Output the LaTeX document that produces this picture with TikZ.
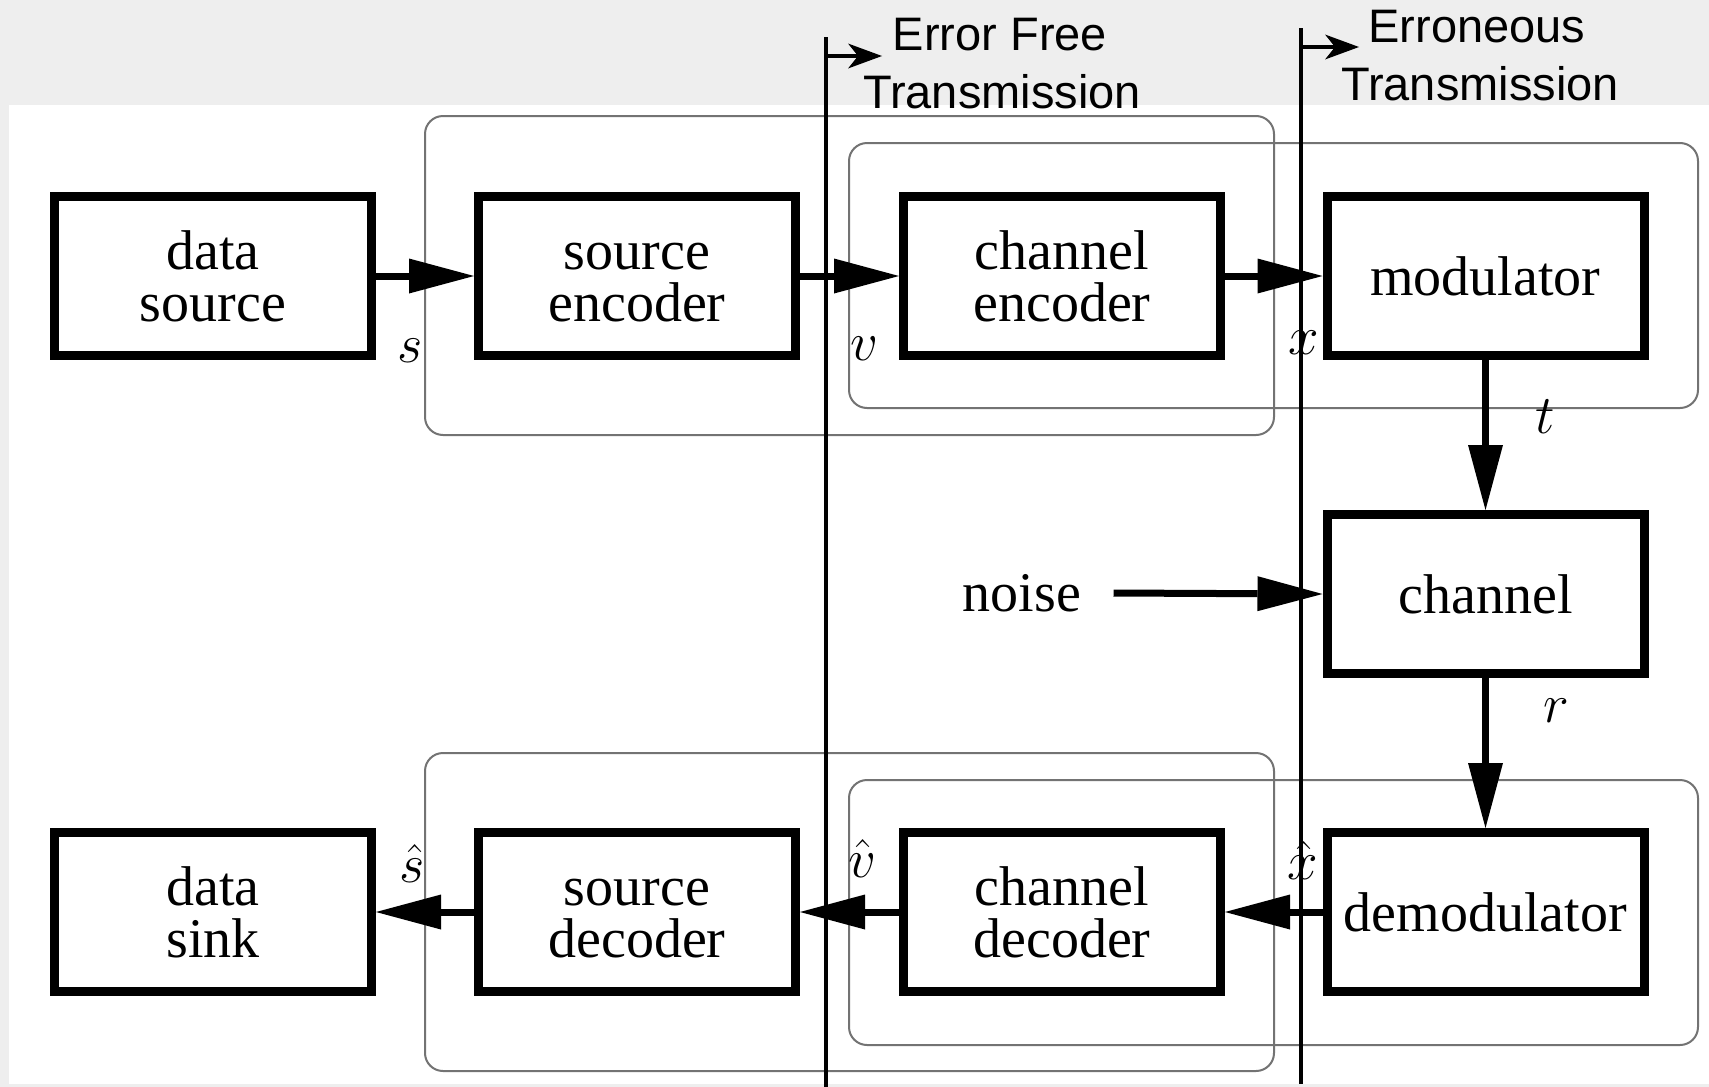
\documentclass[tikz,border=0pt]{standalone}
\usepackage{graphicx}
\usepackage{fontspec}
\setmainfont{Liberation Serif}
\newfontfamily\hdrfont{Liberation Sans}
\usetikzlibrary{arrows.meta}
\definecolor{bgpanel}{RGB}{238,238,238}
\definecolor{grouprule}{RGB}{115,115,115}
% signal name, a little larger than the largest math size
\newcommand{\signame}[1]{\scalebox{1.1}{$#1$}}

\begin{document}
\begin{tikzpicture}[x=0.5pt,y=-0.5pt,
  block/.style={draw=black, line width=4.5pt, fill=white,
    minimum width=158.5pt, minimum height=79.5pt, inner sep=0pt,
    align=center, font=\fontsize{28}{26}\selectfont},
  flow/.style={line width=3.5pt,
    -{Triangle[length=32.5pt,width=17.5pt,line width=0pt]}},
  group/.style={draw=grouprule, line width=1pt, rounded corners=9pt},
  divider/.style={line width=2.3pt},
  dirarrow/.style={line width=1.8pt,
    -{Stealth[length=17pt,width=12.5pt,inset=5pt,line width=0pt]}},
  hdr/.style={font=\hdrfont\fontsize{23.5}{29}\selectfont, anchor=base, inner sep=0pt},
  sig/.style={font=\fontsize{26}{28}\selectfont, inner sep=0pt},
]
% page and panel
\useasboundingbox (0,0) rectangle (1709,1087);
\fill[bgpanel] (0,0) rectangle (1709,1087);
\fill[white] (9,105) rectangle (1709,1084);

% coder groups
\draw[group] (425,116) rectangle (1274,435);
\draw[group] (849,143) rectangle (1698,408);
\draw[group] (425,753) rectangle (1274,1071);
\draw[group] (849,780) rectangle (1698,1045);

% transmission boundaries
\coordinate (d1t) at (826,37);
\coordinate (d1b) at (826,1087);
\coordinate (d2t) at (1301,28);
\coordinate (d2b) at (1301,1084);
\draw[divider] (d1t) -- (d1b);
\draw[divider] (d2t) -- (d2b);

\coordinate (efs) at (826,56);
\coordinate (efe) at (882,56);
\draw[dirarrow] (efs) -- (efe);
\coordinate (ers) at (1301,47);
\coordinate (ere) at (1359,47);
\draw[dirarrow] (ers) -- (ere);

\node[hdr] (efa) at (1000,50) {Error Free};
\node[hdr] (efb) at (1002,108) {Transmission};
\node[hdr] (era) at (1477,42) {Erroneous};
\node[hdr] (erb) at (1480,100) {Transmission};

% blocks
\node[block] (dsrc) at (213,276) {data\\source};
\node[block] (senc) at (637,276) {\vphantom{d}source\\encoder};
\node[block] (cenc) at (1062,276) {channel\\encoder};
\node[block] (mod)  at (1485.5,276) {modulator};
\node[block] (chan) at (1485.5,594) {channel};
\node[block] (dem)  at (1485.5,912) {demodulator};
\node[block] (cdec) at (1062,912) {channel\\decoder};
\node[block] (sdec) at (637,912) {\vphantom{d}source\\decoder};
\node[block] (dsnk) at (213,912) {data\\sink};

\node[font=\fontsize{28}{26}\selectfont, inner xsep=16pt, inner ysep=0pt] (noise) at (1022,593) {noise};

% signal flow
\draw[flow] (dsrc.east) -- (senc.west);
\draw[flow] (senc.east) -- (cenc.west);
\draw[flow] (cenc.east) -- (mod.west);
\draw[flow] (mod.south) -- (chan.north);
\draw[flow] (noise.east) -- (chan.west);
\draw[flow] (chan.south) -- (dem.north);
\draw[flow] (dem.west) -- (cdec.east);
\draw[flow] (cdec.west) -- (sdec.east);
\draw[flow] (sdec.west) -- (dsnk.east);

% signal names
\node[sig] (ls)  at (410,351) {\signame{s}};
\node[sig] (lv)  at (864,349) {\signame{v}};
\node[sig] (lx)  at (1304,343) {\signame{x}};
\node[sig] (lt)  at (1545,417) {\signame{t}};
\node[sig] (lr)  at (1556,711) {\signame{r}};
\node[sig] (lsh) at (412,863) {\signame{\hat{s}}};
\node[sig] (lvh) at (862,858) {\signame{\hat{v}}};
\node[sig] (lxh) at (1303,860) {\signame{\hat{x}}};
\end{tikzpicture}
\end{document}
